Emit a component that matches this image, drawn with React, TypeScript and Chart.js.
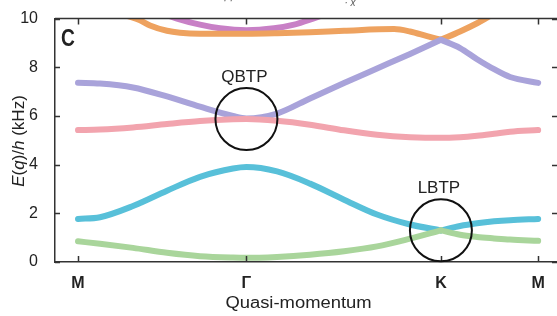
import React, { useEffect, useRef } from 'react';
import { Chart, registerables } from 'chart.js';

Chart.register(...registerables);

// Symmetry points along the path M – Γ – K – M (Γ–M distance = 1)
const symmetryLabels = ['M', 'Γ', 'K', 'M'];
const symmetryQ = [0, 1, 2.1547, 2.7321];

// Quasi-momentum samples shared by the four lowest bands
const qBands = [0, 0.1306, 0.3266, 0.5285, 0.7245, 0.9204, 1, 1.1817, 1.3777, 1.5796, 1.7755, 1.9715, 2.1547, 2.2684, 2.3694, 2.4703, 2.5653, 2.7321];
const band1 = [0.85, 0.75, 0.58, 0.38, 0.24, 0.18, 0.17, 0.21, 0.3, 0.44, 0.64, 0.96, 1.3, 1.12, 1.03, 0.97, 0.92, 0.87];
const band2 = [1.77, 1.84, 2.3, 2.93, 3.5, 3.84, 3.9, 3.72, 3.22, 2.56, 1.95, 1.54, 1.3, 1.48, 1.59, 1.67, 1.72, 1.77];
const band3 = [5.42, 5.44, 5.53, 5.67, 5.79, 5.86, 5.87, 5.8, 5.64, 5.41, 5.23, 5.13, 5.1, 5.13, 5.19, 5.27, 5.35, 5.42];
const band4 = [7.36, 7.33, 7.17, 6.8, 6.38, 6.0, 5.9, 6.1, 6.72, 7.35, 7.95, 8.55, 9.13, 8.79, 8.33, 7.92, 7.6, 7.36];

// Fifth band (orange)
const qBand5 = [0, 0.1306, 0.2969, 0.3682, 0.4276, 0.5285, 0.6057, 0.7245, 1, 1.1817, 1.3777, 1.5796, 1.8765, 1.9715, 2.0724, 2.1547, 2.2684, 2.3694, 2.4287, 2.5059];
const band5 = [10.9, 10.5, 10.1, 9.93, 9.72, 9.5, 9.42, 9.38, 9.38, 9.4, 9.44, 9.5, 9.57, 9.47, 9.28, 9.13, 9.47, 9.81, 10.04, 10.35];

// Sixth band (magenta), only visible around Γ
const qBand6 = [0.4869, 0.5879, 0.7245, 0.8432, 1, 1.1639, 1.2827, 1.3955, 1.4964];
const band6 = [10.25, 10.0, 9.75, 9.6, 9.52, 9.6, 9.75, 10.0, 10.25];

// Band touching points that are circled
const touchLabels = ['QBTP', 'LBTP'];
const touchQ = [1, 2.1547];
const touchE = [5.87, 1.3];

const FONT = '"Liberation Sans", Arial, Helvetica, sans-serif';

function segments(q: number[], e: number[], cuts: number[]) {
  const out: { x: number; y: number }[][] = [];
  let start = 0;
  const ends = [...cuts, q.length - 1];
  for (const end of ends) {
    const seg: { x: number; y: number }[] = [];
    for (let i = start; i <= end; i++) seg.push({ x: q[i], y: e[i] });
    out.push(seg);
    start = end;
  }
  return out;
}

export default function App() {
  const ref = useRef<HTMLCanvasElement>(null);

  useEffect(() => {
    const canvas = ref.current;
    if (!canvas) return;

    const bandDefs = [
      { segs: segments(qBands, band1, [12]), color: '#a9d59b' },
      { segs: segments(qBands, band2, [12]), color: '#58c0d9' },
      { segs: segments(qBands, band3, []), color: '#f2a4ae' },
      { segs: segments(qBands, band4, [12]), color: '#a9a3da' },
      { segs: segments(qBand5, band5, [15]), color: '#eea25f' },
      { segs: segments(qBand6, band6, []), color: '#c880c6' },
    ];

    const datasets: any[] = [];
    bandDefs.forEach((b) => {
      b.segs.forEach((s) => {
        datasets.push({
          data: s,
          showLine: true,
          borderColor: b.color,
          backgroundColor: b.color,
          borderWidth: 6,
          pointRadius: 0,
          cubicInterpolationMode: 'monotone',
          borderCapStyle: 'round',
          borderJoinStyle: 'round',
          clip: 0,
        });
      });
    });

    const decor = {
      id: 'decor',
      afterDraw(chart: any) {
        const { ctx, chartArea } = chart;
        const xs = chart.scales.x;
        const ys = chart.scales.y;
        const { left, right, top, bottom } = chartArea;
        ctx.save();
        ctx.strokeStyle = '#333';
        ctx.lineWidth = 1.5;
        // top frame line
        ctx.beginPath();
        ctx.moveTo(left, top);
        ctx.lineTo(right, top);
        ctx.stroke();
        // inward ticks
        ctx.beginPath();
        symmetryQ.forEach((v) => {
          const px = Math.round(xs.getPixelForValue(v)) + 0.5;
          ctx.moveTo(px, bottom);
          ctx.lineTo(px, bottom - 6);
          ctx.moveTo(px, top);
          ctx.lineTo(px, top + 6);
        });
        ys.ticks.forEach((t: any) => {
          const py = Math.round(ys.getPixelForValue(t.value)) + 0.5;
          ctx.moveTo(left, py);
          ctx.lineTo(left + 5, py);
          ctx.moveTo(right, py);
          ctx.lineTo(right - 5, py);
        });
        ctx.stroke();

        // circles around touching points
        ctx.strokeStyle = '#111';
        ctx.lineWidth = 2;
        ctx.fillStyle = '#222';
        ctx.font = `17px ${FONT}`;
        ctx.textAlign = 'center';
        ctx.textBaseline = 'alphabetic';
        touchLabels.forEach((lab, i) => {
          const cx = xs.getPixelForValue(touchQ[i]);
          const cy = ys.getPixelForValue(touchE[i]);
          ctx.beginPath();
          ctx.arc(cx, cy, 31, 0, Math.PI * 2);
          ctx.stroke();
          ctx.fillText(lab, cx - 2, cy - 37);
        });

        // panel letter
        ctx.save();
        ctx.translate(61, 46);
        ctx.scale(0.8, 1);
        ctx.font = `bold 24px ${FONT}`;
        ctx.textAlign = 'left';
        ctx.fillStyle = '#222';
        ctx.fillText('C', 0, 0);
        ctx.restore();

        // x-axis title
        ctx.save();
        ctx.translate(298.5, 308);
        ctx.scale(1.15, 1);
        ctx.font = `16px ${FONT}`;
        ctx.textAlign = 'center';
        ctx.fillStyle = '#222';
        ctx.fillText('Quasi-momentum', 0, 0);
        ctx.restore();

        // y-axis title with italic parts
        ctx.save();
        ctx.translate(24, 141);
        ctx.rotate(-Math.PI / 2);
        ctx.textAlign = 'left';
        ctx.fillStyle = '#222';
        const parts: [string, boolean][] = [
          ['E', true], ['(', false], ['q', true], [')/', false], ['h', true], [' (kHz)', false],
        ];
        const fontFor = (it: boolean) => `${it ? 'italic ' : ''}17px ${FONT}`;
        let total = 0;
        parts.forEach(([t, it]) => { ctx.font = fontFor(it); total += ctx.measureText(t).width; });
        let x = -total / 2;
        parts.forEach(([t, it]) => {
          ctx.font = fontFor(it);
          ctx.fillText(t, x, 0);
          x += ctx.measureText(t).width;
        });
        ctx.restore();

        // clipped fragments of the panel above
        ctx.fillStyle = '#555';
        ctx.font = `italic 10px ${FONT}`;
        ctx.textAlign = 'center';
        ctx.fillText('· ·', 228, 4);
        ctx.fillText('· x', 350, 6);
        ctx.restore();
      },
    };

    const chart = new Chart(canvas, {
      type: 'scatter',
      data: { datasets },
      options: {
        animation: false,
        responsive: false,
        events: [],
        layout: { padding: { top: 17, left: 0, right: 0, bottom: 0 } },
        plugins: { legend: { display: false }, tooltip: { enabled: false } },
        scales: {
          x: {
            type: 'linear',
            min: -0.1366,
            max: 2.844,
            afterFit: (s: any) => { s.height = 54; },
            afterBuildTicks: (s: any) => { s.ticks = symmetryQ.map((v) => ({ value: v })); },
            ticks: {
              autoSkip: false,
              maxRotation: 0,
              padding: 4,
              color: '#222',
              font: { family: FONT, size: 16, weight: 'bold' },
              callback: (v: any) => {
                let best = 0;
                symmetryQ.forEach((q, i) => { if (Math.abs(q - v) < Math.abs(symmetryQ[best] - v)) best = i; });
                return symmetryLabels[best];
              },
            },
            grid: { display: false },
            border: { display: true, color: '#333', width: 1.5 },
          },
          y: {
            type: 'linear',
            min: 0,
            max: 10,
            afterFit: (s: any) => { s.width = 55; },
            ticks: {
              stepSize: 2,
              padding: 9,
              color: '#222',
              font: { family: FONT, size: 16 },
            },
            grid: { display: false },
            border: { display: true, color: '#333', width: 1.5 },
          },
        },
      },
      plugins: [decor],
    });

    return () => chart.destroy();
  }, []);

  return (
    <canvas
      ref={ref}
      width={557}
      height={316}
      style={{ position: 'absolute', left: 0, top: 0, display: 'block' }}
    />
  );
}
